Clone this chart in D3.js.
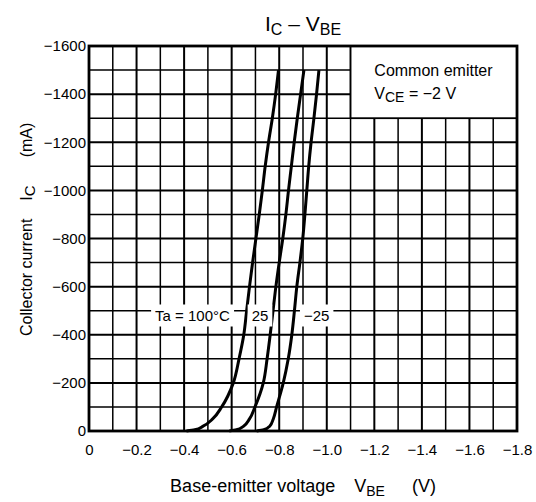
<!DOCTYPE html>
<html>
<head>
<meta charset="utf-8">
<script src="https://cdn.jsdelivr.net/npm/d3@7"></script>
<style>
body { margin: 0; background: #fff; }
text { font-family: "Liberation Sans", Arial, sans-serif; fill: #000; }
</style>
</head>
<body>
<div id="chart"></div>
<script>
// collector current (mA) shared by the three curves
var current = [0, -5, -20, -50, -100, -200, -300, -400, -500, -600, -700, -800, -900, -1000, -1100, -1200, -1300, -1400, -1500];
// base-emitter voltage (V)
var vbe100 = [-0.41, -0.445, -0.48, -0.52, -0.558, -0.607, -0.631, -0.651, -0.663, -0.675, -0.688, -0.702, -0.716, -0.729, -0.741, -0.755, -0.771, -0.785, -0.797];
var vbe25 = [-0.59, -0.62, -0.65, -0.675, -0.698, -0.733, -0.749, -0.762, -0.774, -0.786, -0.800, -0.815, -0.828, -0.839, -0.851, -0.863, -0.876, -0.890, -0.904];
var vbeM25 = [-0.705, -0.735, -0.76, -0.775, -0.789, -0.817, -0.838, -0.853, -0.864, -0.874, -0.887, -0.899, -0.908, -0.916, -0.924, -0.934, -0.946, -0.957, -0.967];

var curveLabels = ["Ta = 100°C", "25", "−25"];
var labelVbe = [-0.278, -0.684, -0.904];
var labelIc = -480;

var xTicks = [0, -0.2, -0.4, -0.6, -0.8, -1.0, -1.2, -1.4, -1.6, -1.8];
var yTicks = [0, -200, -400, -600, -800, -1000, -1200, -1400, -1600];

var svgWidth = 536;
var svgHeight = 502;

var margin = {
    top: 46,
    bottom: 71,
    right: 19,
    left: 89
};

var width = svgWidth - margin.left - margin.right;
var height = svgHeight - margin.top - margin.bottom;

var svg = d3.select("#chart")
    .append("svg")
    .attr("width", svgWidth)
    .attr("height", svgHeight);

var chartGroup = svg.append("g")
    .attr("transform", `translate(${margin.left}, ${margin.top})`);

var x = d3.scaleLinear()
    .domain([0, -1.8])
    .range([0, width]);

var y = d3.scaleLinear()
    .domain([0, -1600])
    .range([height, 0]);

// grid: every 0.1 V and every 100 mA
var xGrid = d3.range(1, 18).map(i => -i / 10);
var yGrid = d3.range(1, 16).map(i => -i * 100);

chartGroup.selectAll(".vgrid")
    .data(xGrid)
    .enter()
    .append("line")
    .attr("class", "vgrid")
    .attr("x1", d => x(d))
    .attr("x2", d => x(d))
    .attr("y1", 0)
    .attr("y2", height)
    .attr("stroke", "#000")
    .attr("stroke-width", (d, i) => (i % 2 === 1 ? 2 : 1.5));

chartGroup.selectAll(".hgrid")
    .data(yGrid)
    .enter()
    .append("line")
    .attr("class", "hgrid")
    .attr("x1", 0)
    .attr("x2", width)
    .attr("y1", d => y(d))
    .attr("y2", d => y(d))
    .attr("stroke", "#000")
    .attr("stroke-width", (d, i) => (i % 2 === 1 ? 2 : 1.5));

// legend box top right
chartGroup.append("rect")
    .attr("x", x(-1.1))
    .attr("y", y(-1600))
    .attr("width", x(-1.8) - x(-1.1))
    .attr("height", y(-1300) - y(-1600))
    .attr("fill", "#fff")
    .attr("stroke", "#000")
    .attr("stroke-width", 1.8);

var legendText = chartGroup.append("g")
    .attr("font-size", 16);

legendText.append("text")
    .attr("x", x(-1.2))
    .attr("y", y(-1600) + 30)
    .text("Common emitter");

var vce = legendText.append("text")
    .attr("x", x(-1.2))
    .attr("y", y(-1600) + 53);
vce.append("tspan").text("V");
vce.append("tspan").attr("font-size", 14).attr("dy", 3).text("CE");
vce.append("tspan").attr("dy", -3).text(" = −2 V");

// curve labels with white backing
var labelGroup = chartGroup.append("g");

var labelTexts = labelGroup.selectAll("text")
    .data(curveLabels)
    .enter()
    .append("text")
    .attr("x", (d, i) => x(labelVbe[i]))
    .attr("y", y(labelIc))
    .attr("dy", "0.35em")
    .attr("font-size", 15)
    .text(d => d);

labelTexts.each(function () {
    var b = this.getBBox();
    labelGroup.insert("rect", "text")
        .attr("x", b.x - 4)
        .attr("y", y(labelIc) - 11)
        .attr("width", b.width + 8)
        .attr("height", 22)
        .attr("fill", "#fff");
});

// curves
var series = [vbe100, vbe25, vbeM25];

var line = d3.line()
    .x(d => x(d.v))
    .y(d => y(d.i))
    .curve(d3.curveMonotoneY);

chartGroup.selectAll(".curve")
    .data(series)
    .enter()
    .insert("path", "g")
    .attr("class", "curve")
    .attr("d", s => line(current.map((c, k) => ({ i: c, v: s[k] })).reverse()))
    .attr("fill", "none")
    .attr("stroke", "#000")
    .attr("stroke-width", 3);

// frame
chartGroup.append("rect")
    .attr("width", width)
    .attr("height", height)
    .attr("fill", "none")
    .attr("stroke", "#000")
    .attr("stroke-width", 2.8);

// axes
var bottomAxis = d3.axisBottom(x)
    .tickValues(xTicks)
    .tickSize(0)
    .tickPadding(13)
    .tickFormat(d => (d === 0 ? "0" : d3.format(".1f")(d)));

var leftAxis = d3.axisLeft(y)
    .tickValues(yTicks)
    .tickSize(0)
    .tickPadding(3)
    .tickFormat(d3.format("d"));

var xAxis = chartGroup.append("g")
    .attr("transform", `translate(0, ${height})`)
    .call(bottomAxis);

var yAxis = chartGroup.append("g")
    .call(leftAxis);

[xAxis, yAxis].forEach(a => {
    a.select(".domain").remove();
    a.selectAll("text")
        .attr("font-size", 15)
        .attr("font-family", null)
        .attr("fill", "#000");
});

// title
var title = svg.append("text")
    .attr("x", margin.left + width / 2)
    .attr("y", 31)
    .attr("text-anchor", "middle")
    .attr("font-size", 21);
title.append("tspan").text("I");
title.append("tspan").attr("font-size", 16).attr("dy", 4).text("C");
title.append("tspan").attr("dy", -4).text(" – V");
title.append("tspan").attr("font-size", 16).attr("dy", 4).text("BE");

// x label
var xLabel = svg.append("text")
    .attr("x", margin.left + width / 2)
    .attr("y", 492)
    .attr("text-anchor", "middle")
    .attr("font-size", 18);
xLabel.append("tspan").text("Base-emitter voltage");
xLabel.append("tspan").attr("dx", 19).text("V");
xLabel.append("tspan").attr("font-size", 14).attr("dy", 4).text("BE");
xLabel.append("tspan").attr("dx", 27).attr("dy", -4).text("(V)");

// y label
var yLabel = svg.append("text")
    .attr("transform", "translate(32, 336) rotate(-90)")
    .attr("font-size", 16);
yLabel.append("tspan").text("Collector current");
yLabel.append("tspan").attr("dx", 18).text("I");
yLabel.append("tspan").attr("font-size", 15).attr("dy", 3).text("C");
yLabel.append("tspan").attr("dx", 28).attr("dy", -3).text("(mA)");
</script>
</body>
</html>
